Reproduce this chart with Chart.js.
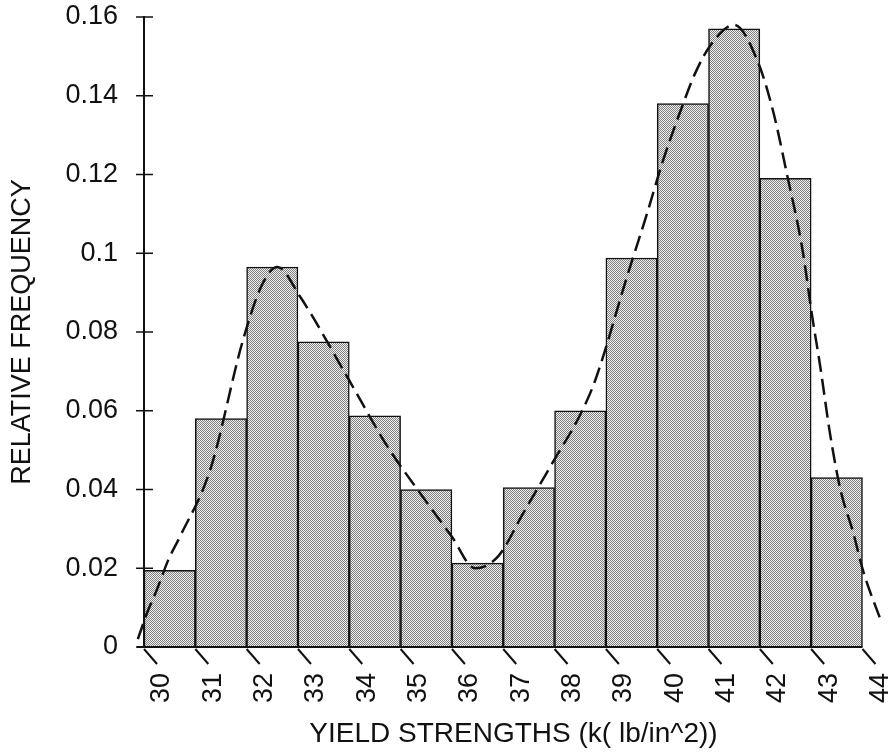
<!DOCTYPE html>
<html>
<head>
<meta charset="utf-8">
<script src="https://cdn.jsdelivr.net/npm/chart.js@4.4.1/dist/chart.umd.min.js"></script>
<style>
  html, body { margin: 0; padding: 0; background: #fff; }
  #wrap { width: 893px; height: 755px; }
</style>
</head>
<body>
<div id="wrap"><canvas id="yieldChart" width="893" height="755"></canvas></div>
<script>
// histogram bins (left edge of each 1 k lb/in^2 class)
const binStarts = [30, 31, 32, 33, 34, 35, 36, 37, 38, 39, 40, 41, 42, 43];
const relFreq = [0.0195, 0.058, 0.0965, 0.0775, 0.0587, 0.040, 0.0213, 0.0405, 0.060, 0.0988, 0.138, 0.157, 0.119, 0.043];

// hand drawn dashed curve
const curveX = [29.88, 30.07, 30.25, 30.47, 30.7, 31.29, 31.93, 32.3, 32.6, 33.04, 33.96, 34.74, 35.44, 36.0, 36.45, 36.9, 37.39, 37.97, 38.5, 38.8, 39.41, 39.8, 40.1, 40.45, 40.75, 41.05, 41.5, 41.95, 42.26, 42.53, 42.83, 43.02, 43.18, 43.37, 43.57, 43.82, 44.02, 44.35];
const curveY = [0.002, 0.009, 0.0145, 0.022, 0.028, 0.045, 0.078, 0.092, 0.0965, 0.089, 0.0686, 0.051, 0.038, 0.028, 0.020, 0.023, 0.034, 0.047, 0.059, 0.068, 0.094, 0.110, 0.123, 0.136, 0.146, 0.153, 0.158, 0.149, 0.136, 0.120, 0.101, 0.084, 0.071, 0.054, 0.040, 0.029, 0.019, 0.007];

const xTicks = [30, 31, 32, 33, 34, 35, 36, 37, 38, 39, 40, 41, 42, 43, 44];
const xMax = 44.4;   // a little room on the right so the curve tail is kept
const yMax = 0.16;
const yStep = 0.02;

const FONT = "'Liberation Sans', Arial, sans-serif";

// dithered grey fill like the printed halftone
function makeStipple() {
    const c = document.createElement('canvas');
    c.width = 2; c.height = 2;
    const g = c.getContext('2d');
    g.fillStyle = '#f0f0f0';
    g.fillRect(0, 0, 2, 2);
    g.fillStyle = '#808080';
    g.fillRect(0, 0, 1, 1);
    g.fillRect(1, 1, 1, 1);
    return g.createPattern(c, 'repeat');
}

// baseline, slanted x ticks and y ticks that cross the axis
const axisMarks = {
    id: 'axisMarks',
    afterDraw(chart) {
        const ctx = chart.ctx;
        const xs = chart.scales.x, ys = chart.scales.y;
        const x0 = xs.getPixelForValue(xTicks[0]);
        const x1 = xs.getPixelForValue(xTicks[xTicks.length - 1]);
        ctx.save();
        ctx.strokeStyle = '#111';
        ctx.lineWidth = 2;
        ctx.beginPath();
        ctx.moveTo(x0 - 7, ys.bottom);
        ctx.lineTo(x1, ys.bottom);
        ctx.stroke();
        xs.ticks.forEach(t => {
            const px = xs.getPixelForValue(t.value);
            ctx.beginPath();
            ctx.moveTo(px, ys.bottom + 2);
            ctx.lineTo(px + 13, ys.bottom + 17);
            ctx.stroke();
        });
        ctx.lineWidth = 1.5;
        ys.ticks.forEach(t => {
            const py = ys.getPixelForValue(t.value);
            ctx.beginPath();
            ctx.moveTo(x0 - 8, py);
            ctx.lineTo(x0 + 9, py);
            ctx.stroke();
        });
        ctx.restore();
    }
};

function noPad(s) {
    s.paddingTop = 0; s.paddingBottom = 0;
    s.paddingLeft = 0; s.paddingRight = 0;
}

const ctx = document.getElementById('yieldChart').getContext('2d');
new Chart(ctx, {
    data: {
        datasets: [
            {
                type: 'line',
                data: curveX.map((x, i) => ({ x: x, y: curveY[i] })),
                borderColor: '#111',
                borderWidth: 2.5,
                borderDash: [16, 7],
                cubicInterpolationMode: 'monotone',
                pointRadius: 0,
                fill: false,
                clip: false,
                order: 0
            },
            {
                type: 'bar',
                data: binStarts.map((b, i) => ({ x: b + 0.5, y: relFreq[i] })),
                backgroundColor: makeStipple(),
                borderColor: '#111',
                borderWidth: 1.5,
                barPercentage: 1,
                categoryPercentage: 1,
                order: 1
            }
        ]
    },
    options: {
        responsive: false,
        animation: false,
        devicePixelRatio: 1,
        layout: { padding: { top: 17, right: 10, left: 0, bottom: 0 } },
        plugins: { legend: { display: false }, tooltip: { enabled: false } },
        scales: {
            x: {
                type: 'linear',
                min: xTicks[0],
                max: xMax,
                offset: false,
                afterBuildTicks: s => { s.ticks = xTicks.map(v => ({ value: v })); },
                afterFit: s => { s.height = 108; noPad(s); },
                grid: { display: false, drawTicks: false },
                border: { display: false },
                ticks: {
                    minRotation: 90,
                    maxRotation: 90,
                    autoSkip: false,
                    padding: 26,
                    labelOffset: 18,
                    color: '#111',
                    font: { family: FONT, size: 27 }
                },
                title: {
                    display: true,
                    text: 'YIELD STRENGTHS (k( lb/in^2))',
                    color: '#111',
                    font: { family: FONT, size: 28 },
                    padding: { top: 6, bottom: 4 }
                }
            },
            y: {
                min: 0,
                max: yMax,
                afterFit: s => { s.width = 144; noPad(s); },
                ticks: {
                    stepSize: yStep,
                    padding: 26,
                    color: '#111',
                    font: { family: FONT, size: 27 },
                    callback: v => String(+v.toFixed(2))
                },
                grid: { display: false, drawTicks: false },
                border: { display: true, color: '#111', width: 2 },
                title: {
                    display: true,
                    text: 'RELATIVE FREQUENCY',
                    color: '#111',
                    font: { family: FONT, size: 27 },
                    padding: { top: 6, bottom: 0 }
                }
            }
        }
    },
    plugins: [axisMarks]
});
</script>
</body>
</html>
